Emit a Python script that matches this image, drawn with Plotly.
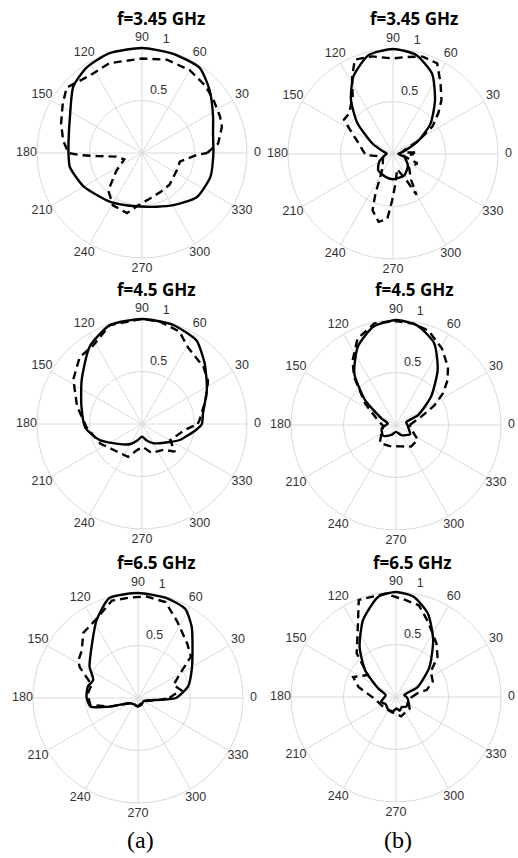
import plotly.graph_objects as go

W, H = 518, 858

ANGLE_TICKS = list(range(0, 360, 30))
RING_TICKS = [0.5, 1.0]
RING_LABELS = ["0.5", "1"]
RING_LABEL_THETA = [82, 79]

# ---- f = 3.45 GHz, column (a) ----
a345_sim_theta = [0, 15, 27, 43, 56, 73, 90, 108, 123, 136, 153, 170, 180, 191, 210, 237, 253, 268, 285, 301, 321, 341, 360]
a345_sim_r     = [0.68, 0.70, 0.76, 0.88, 0.98, 0.99, 1.0, 1.0, 0.97, 0.91, 0.77, 0.71, 0.70, 0.70, 0.64, 0.555, 0.52, 0.51, 0.53, 0.58, 0.67, 0.69, 0.68]
a345_meas_theta = [0, 3, 7, 18, 25, 37, 47, 60, 75, 90, 110, 124, 139, 148, 160, 171, 180, 182, 184, 188, 200, 215, 228, 241, 256, 266, 280, 296, 311, 334, 347, 358, 360]
a345_meas_r     = [0.62, 0.66, 0.73, 0.80, 0.82, 0.85, 0.88, 0.91, 0.92, 0.90, 0.91, 0.89, 0.95, 0.89, 0.82, 0.76, 0.70, 0.59, 0.42, 0.25, 0.18, 0.30, 0.48, 0.57, 0.59, 0.50, 0.44, 0.41, 0.40, 0.37, 0.37, 0.52, 0.62]

# ---- f = 3.45 GHz, column (b) ----
b345_sim_theta = [0, 10, 17, 28, 39, 52, 64, 77, 90, 104, 117, 128, 139, 153, 165, 176, 190, 209, 228, 253, 272, 298, 322, 346, 360]
b345_sim_r     = [0.05, 0.08, 0.13, 0.28, 0.46, 0.65, 0.85, 0.97, 1.0, 0.97, 0.83, 0.65, 0.45, 0.22, 0.10, 0.06, 0.08, 0.15, 0.21, 0.23, 0.24, 0.23, 0.18, 0.11, 0.05]
b345_meas_theta = [0, 4, 10, 20, 28, 35, 42, 48, 56, 64, 73, 83, 90, 102, 112, 118, 125, 137, 145, 152, 163, 173, 182, 195, 230, 241, 246, 250, 258, 265, 269, 275, 285, 297, 300, 305, 320, 339, 350, 360]
b345_meas_r     = [0.20, 0.20, 0.08, 0.13, 0.28, 0.46, 0.58, 0.69, 0.81, 0.96, 0.97, 0.93, 0.91, 0.95, 0.97, 0.83, 0.67, 0.57, 0.57, 0.45, 0.34, 0.29, 0.26, 0.10, 0.15, 0.25, 0.41, 0.57, 0.66, 0.62, 0.44, 0.28, 0.15, 0.28, 0.45, 0.30, 0.20, 0.25, 0.10, 0.20]

# ---- f = 4.5 GHz, column (a) ----
a45_sim_theta = [0, 10, 28, 44, 57, 73, 90, 108, 124, 144, 164, 184, 201, 226, 240, 255, 270, 285, 300, 313, 337, 354, 360]
a45_sim_r     = [0.57, 0.59, 0.70, 0.83, 0.95, 0.99, 1.0, 0.99, 0.89, 0.71, 0.60, 0.54, 0.43, 0.27, 0.22, 0.16, 0.12, 0.16, 0.21, 0.25, 0.39, 0.52, 0.57]
a45_meas_theta = [0, 4, 21, 33, 43, 59, 68, 80, 90, 108, 122, 133, 147, 165, 183, 205, 225, 247, 260, 273, 288, 310, 320, 330, 352, 360]
a45_meas_r     = [0.53, 0.55, 0.65, 0.75, 0.80, 0.85, 0.95, 0.99, 1.0, 0.99, 0.88, 0.87, 0.78, 0.64, 0.53, 0.44, 0.36, 0.34, 0.25, 0.22, 0.29, 0.32, 0.41, 0.31, 0.41, 0.53]

# ---- f = 4.5 GHz, column (b) ----
b45_sim_theta = [0, 15, 24, 39, 53, 65, 78, 90, 103, 116, 129, 141, 156, 170, 193, 220, 245, 270, 298, 327, 352, 360]
b45_sim_r     = [0.11, 0.10, 0.23, 0.43, 0.66, 0.86, 0.97, 1.0, 0.96, 0.83, 0.63, 0.38, 0.15, 0.08, 0.14, 0.16, 0.105, 0.065, 0.11, 0.16, 0.115, 0.11]
b45_meas_theta = [0, 18, 27, 34, 41, 48, 59, 71, 80, 90, 102, 114, 124, 131, 145, 165, 185, 210, 228, 253, 284, 305, 326, 345, 360]
b45_meas_r     = [0.13, 0.25, 0.41, 0.54, 0.65, 0.74, 0.85, 0.95, 0.98, 0.99, 0.99, 0.90, 0.74, 0.61, 0.36, 0.18, 0.12, 0.16, 0.23, 0.21, 0.21, 0.25, 0.25, 0.15, 0.13]

# ---- f = 6.5 GHz, column (a) ----
a65_sim_theta = [0, 13, 28, 43, 53, 62, 74, 90, 106, 118, 132, 147, 158, 167, 179, 190, 197, 210, 240, 270, 300, 330, 350, 355, 360]
a65_sim_r     = [0.36, 0.49, 0.58, 0.71, 0.85, 0.96, 0.99, 1.0, 0.99, 0.84, 0.66, 0.55, 0.46, 0.49, 0.49, 0.46, 0.28, 0.10, 0.07, 0.08, 0.07, 0.06, 0.12, 0.21, 0.36]
a65_meas_theta = [0, 5, 10, 20, 30, 38, 48, 63, 74, 85, 95, 105, 118, 130, 140, 148, 152, 164, 175, 188, 197, 210, 270, 330, 355, 360]
a65_meas_r     = [0.30, 0.34, 0.42, 0.36, 0.46, 0.64, 0.70, 0.82, 0.95, 0.97, 0.96, 0.96, 0.85, 0.81, 0.70, 0.67, 0.63, 0.46, 0.48, 0.46, 0.28, 0.10, 0.08, 0.06, 0.21, 0.30]

# ---- f = 6.5 GHz, column (b) ----
b65_sim_theta = [0, 13, 25, 42, 57, 69, 80, 90, 100, 113, 126, 139, 154, 170, 198, 215, 237, 258, 272, 285, 300, 317, 346, 360]
b65_sim_r     = [0.10, 0.08, 0.23, 0.43, 0.65, 0.85, 0.97, 1.0, 0.97, 0.80, 0.59, 0.39, 0.19, 0.10, 0.15, 0.12, 0.14, 0.14, 0.11, 0.135, 0.11, 0.135, 0.12, 0.10]
b65_meas_theta = [0, 10, 13, 23, 36, 44, 53, 67, 76, 85, 96, 111, 121, 132, 142, 155, 165, 186, 209, 252, 285, 320, 345, 360]
b65_meas_r     = [0.15, 0.21, 0.30, 0.38, 0.41, 0.55, 0.64, 0.78, 0.90, 0.93, 0.99, 0.99, 0.71, 0.56, 0.34, 0.45, 0.37, 0.20, 0.16, 0.15, 0.19, 0.17, 0.12, 0.15]

# panel layout: title, centre (px), title anchor (px)
panels = [
    dict(title="f=3.45 GHz", cx=142, cy=153, tx=161, ty=19,
         sim=(a345_sim_theta, a345_sim_r), meas=(a345_meas_theta, a345_meas_r)),
    dict(title="f=3.45 GHz", cx=393, cy=154, tx=414, ty=19,
         sim=(b345_sim_theta, b345_sim_r), meas=(b345_meas_theta, b345_meas_r)),
    dict(title="f=4.5 GHz", cx=142, cy=424, tx=156, ty=289,
         sim=(a45_sim_theta, a45_sim_r), meas=(a45_meas_theta, a45_meas_r)),
    dict(title="f=4.5 GHz", cx=396, cy=425, tx=414, ty=289,
         sim=(b45_sim_theta, b45_sim_r), meas=(b45_meas_theta, b45_meas_r)),
    dict(title="f=6.5 GHz", cx=138, cy=698, tx=156, ty=562,
         sim=(a65_sim_theta, a65_sim_r), meas=(a65_meas_theta, a65_meas_r)),
    dict(title="f=6.5 GHz", cx=396, cy=697, tx=412, ty=562,
         sim=(b65_sim_theta, b65_sim_r), meas=(b65_meas_theta, b65_meas_r)),
]
R = 105          # pixel radius of the unit ring
RMAX = 1.15      # radial range leaves room for the angle labels at r = 1.1

GRID = "#dadada"
LABEL = "#333333"
TICK_FONT = dict(family="Liberation Sans, Arial", size=12.5, color=LABEL)

# spokes from the centre to the unit ring
spoke_theta, spoke_r = [], []
for a in ANGLE_TICKS:
    spoke_theta += [a, a, None]
    spoke_r += [0, 1, None]

fig = go.Figure()
annotations = []
layout_polars = {}

for i, p in enumerate(panels, start=1):
    sub = "polar" if i == 1 else f"polar{i}"
    cx, cy = p["cx"], p["cy"]
    rp = R * RMAX
    layout_polars[sub] = dict(
        domain=dict(x=[(cx - rp) / W, (cx + rp) / W],
                    y=[1 - (cy + rp) / H, 1 - (cy - rp) / H]),
        bgcolor="rgba(0,0,0,0)",
        radialaxis=dict(range=[0, RMAX], tickvals=RING_TICKS, showticklabels=False,
                        ticks="", showline=False, gridcolor=GRID, gridwidth=1),
        angularaxis=dict(rotation=0, direction="counterclockwise",
                         showticklabels=False, ticks="", showline=False, showgrid=False),
    )
    fig.add_trace(go.Scatterpolar(theta=spoke_theta, r=spoke_r, mode="lines", subplot=sub,
                                  line=dict(color=GRID, width=1), connectgaps=False,
                                  showlegend=False, hoverinfo="skip"))
    st, sr = p["sim"]
    mt, mr = p["meas"]
    fig.add_trace(go.Scatterpolar(theta=st, r=sr, mode="lines", subplot=sub,
                                  line=dict(color="black", width=2.4, shape="spline", smoothing=0.6),
                                  showlegend=False, hoverinfo="skip"))
    fig.add_trace(go.Scatterpolar(theta=mt, r=mr, mode="lines", subplot=sub,
                                  line=dict(color="black", width=2.4, dash="8px,5px"),
                                  showlegend=False, hoverinfo="skip"))
    # angle labels just outside the unit ring
    fig.add_trace(go.Scatterpolar(theta=ANGLE_TICKS, r=[1.1] * len(ANGLE_TICKS), mode="text",
                                  text=[str(a) for a in ANGLE_TICKS], subplot=sub,
                                  textposition="middle center", cliponaxis=False,
                                  textfont=TICK_FONT, showlegend=False, hoverinfo="skip"))
    # ring labels
    fig.add_trace(go.Scatterpolar(theta=RING_LABEL_THETA, r=[v + 0.04 for v in RING_TICKS],
                                  mode="text", text=RING_LABELS, subplot=sub,
                                  textposition="top right", cliponaxis=False,
                                  textfont=TICK_FONT, showlegend=False, hoverinfo="skip"))
    annotations.append(dict(text=f"<b>{p['title']}</b>", x=p["tx"] / W, y=1 - p["ty"] / H,
                            xref="paper", yref="paper", showarrow=False,
                            xanchor="center", yanchor="middle",
                            font=dict(family="Open Sans", size=17, color="black")))

for lbl, x in (("(a)", 140), ("(b)", 398)):
    annotations.append(dict(text=lbl, x=x / W, y=1 - 840 / H, xref="paper", yref="paper",
                            showarrow=False, xanchor="center", yanchor="middle",
                            font=dict(family="Liberation Serif, Times New Roman", size=24, color="black")))

fig.update_layout(width=W, height=H, margin=dict(l=0, r=0, t=0, b=0),
                  paper_bgcolor="white", plot_bgcolor="white",
                  annotations=annotations, showlegend=False, **layout_polars)

fig.write_html("out.html")
